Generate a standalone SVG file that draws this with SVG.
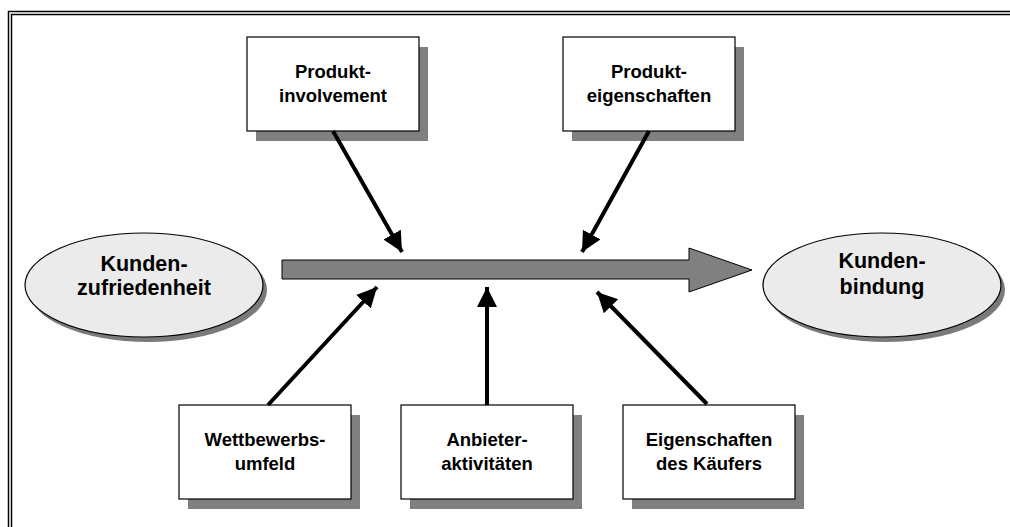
<svg xmlns="http://www.w3.org/2000/svg" width="1010" height="527" viewBox="0 0 1010 527">
  <style>
    .box { fill: #ffffff; stroke: #000000; stroke-width: 1.2; }
    .shadow { fill: #808080; }
    .oval { fill: #ebebeb; stroke: #000000; stroke-width: 1.2; }
    .oshadow { fill: #7a7a7a; }
    .lbl { font-family: "Liberation Sans", Arial, sans-serif; font-weight: bold; font-size: 18.5px; fill: #000000; text-anchor: middle; }
    .big { font-size: 21.5px; }
    .conn { stroke: #000000; stroke-width: 4; fill: none; marker-end: url(#head); }
  </style>
  <defs>
    <marker id="head" markerUnits="userSpaceOnUse" markerWidth="24" markerHeight="22" refX="20" refY="10" orient="auto">
      <path d="M0,0 L20,10 L0,20 Z" fill="#000000"/>
    </marker>
  </defs>

  <rect x="0" y="0" width="1010" height="527" fill="#ffffff"/>

  <!-- double frame -->
  <rect x="10" y="13" width="1020" height="600" fill="none" stroke="#000000" stroke-width="4.5"/>
  <rect x="10" y="13" width="1020" height="600" fill="none" stroke="#c4c4c4" stroke-width="2"/>

  <!-- main flow arrow -->
  <g id="flow">
    <path d="M282,260 L689,260 L689,248 L752,270 L689,292 L689,279 L282,279 Z" fill="#808080" stroke="#000000" stroke-width="1"/>
  </g>

  <g id="kundenzufriedenheit">
    <ellipse class="oshadow" cx="148" cy="290" rx="119" ry="52"/>
    <ellipse class="oval" cx="144" cy="285" rx="119" ry="52"/>
    <text class="lbl big" x="144" y="271">Kunden-</text>
    <text class="lbl big" x="144" y="295">zufriedenheit</text>
  </g>

  <g id="kundenbindung">
    <ellipse class="oshadow" cx="886" cy="290" rx="119" ry="52"/>
    <ellipse class="oval" cx="882" cy="285" rx="119" ry="52"/>
    <text class="lbl big" x="882" y="268">Kunden-</text>
    <text class="lbl big" x="882" y="294">bindung</text>
  </g>

  <g id="produktinvolvement">
    <rect class="shadow" x="256" y="47" width="172" height="94"/>
    <rect class="box" x="247" y="37" width="172" height="94"/>
    <text class="lbl" x="333" y="78">Produkt-</text>
    <text class="lbl" x="333" y="102">involvement</text>
  </g>

  <g id="produkteigenschaften">
    <rect class="shadow" x="572" y="47" width="172" height="94"/>
    <rect class="box" x="563" y="37" width="172" height="94"/>
    <text class="lbl" x="649" y="78">Produkt-</text>
    <text class="lbl" x="649" y="102">eigenschaften</text>
  </g>

  <g id="wettbewerbsumfeld">
    <rect class="shadow" x="188" y="415" width="172" height="94"/>
    <rect class="box" x="179" y="405" width="172" height="94"/>
    <text class="lbl" x="265" y="446">Wettbewerbs-</text>
    <text class="lbl" x="265" y="470">umfeld</text>
  </g>

  <g id="anbieteraktivitaeten">
    <rect class="shadow" x="410" y="415" width="172" height="94"/>
    <rect class="box" x="401" y="405" width="172" height="94"/>
    <text class="lbl" x="487" y="446">Anbieter-</text>
    <text class="lbl" x="487" y="470">aktivitäten</text>
  </g>

  <g id="kaeufereigenschaften">
    <rect class="shadow" x="632" y="415" width="172" height="94"/>
    <rect class="box" x="623" y="405" width="172" height="94"/>
    <text class="lbl" x="709" y="446">Eigenschaften</text>
    <text class="lbl" x="709" y="470">des Käufers</text>
  </g>

  <!-- influence connectors -->
  <g id="connectors">
    <line class="conn" x1="333" y1="131" x2="402" y2="252"/>
    <line class="conn" x1="649" y1="131" x2="582" y2="252"/>
    <line class="conn" x1="268" y1="405" x2="377" y2="287"/>
    <line class="conn" x1="487" y1="405" x2="487" y2="287"/>
    <line class="conn" x1="707" y1="404" x2="597" y2="292"/>
  </g>
</svg>
